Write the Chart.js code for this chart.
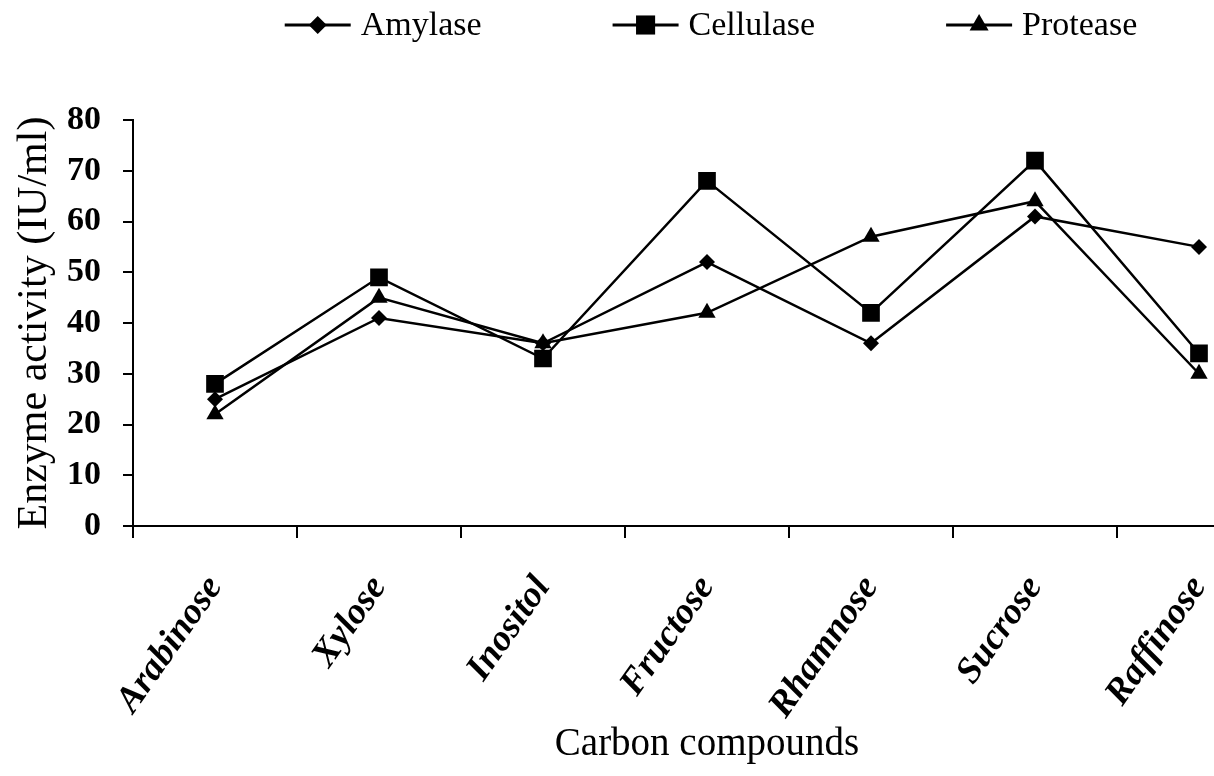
<!DOCTYPE html>
<html>
<head>
<meta charset="utf-8">
<script src="https://cdn.jsdelivr.net/npm/chart.js@4/dist/chart.umd.min.js"></script>
<style>
  html, body { margin: 0; padding: 0; background: #fff; overflow: hidden; }
  #wrap { position: absolute; left: 0; top: 0; width: 1300px; height: 776px; }
</style>
</head>
<body>
<div id="wrap"><canvas id="chart" width="1300" height="776"></canvas></div>
<script>
// Carbon compounds vs enzyme activity (IU/ml)
const compuestos = ['Arabinose', 'Xylose', 'Inositol', 'Fructose', 'Rhamnose', 'Sucrose', 'Raffinose'];
const amylase   = [25, 41, 36, 52, 36, 61, 55];
const cellulase = [28, 49, 33, 68, 42, 72, 34];
const protease  = [22, 45, 36, 42, 57, 64, 30];

const serif = '"Liberation Serif", "Times New Roman", serif';

// leyenda dibujada a mano: línea + marcador + texto
const leyendaPlugin = {
    id: 'leyenda',
    afterDraw(chart) {
        const ctx = chart.ctx;
        const area = chart.chartArea;
        const lineW = 66, gapText = 10, gapItem = 131, y = 25;
        ctx.save();
        ctx.font = '34px ' + serif;
        const items = chart.data.datasets.map(ds => ({
            ds,
            w: lineW + gapText + ctx.measureText(ds.label).width
        }));
        const total = items.reduce((s, i) => s + i.w, 0) + gapItem * (items.length - 1);
        let x = (area.left + area.right) / 2 - total / 2 + 4;
        items.forEach(it => {
            ctx.strokeStyle = '#000';
            ctx.lineWidth = 3;
            ctx.beginPath();
            ctx.moveTo(x, y);
            ctx.lineTo(x + lineW, y);
            ctx.stroke();
            ctx.fillStyle = '#000';
            Chart.helpers.drawPoint(ctx, {
                pointStyle: it.ds.pointStyle,
                radius: it.ds.pointRadius + 1,
                borderWidth: 0,
                rotation: 0
            }, x + lineW / 2, y);
            ctx.fillStyle = '#000';
            ctx.textBaseline = 'middle';
            ctx.textAlign = 'left';
            ctx.fillText(it.ds.label, x + lineW + gapText, y + 1);
            x += it.w + gapItem;
        });
        ctx.restore();
    }
};

function serie(label, data, estilo, radio) {
    return {
        label,
        data,
        borderColor: '#000',
        backgroundColor: '#000',
        borderWidth: 2.5,
        tension: 0,
        pointStyle: estilo,
        pointRadius: radio,
        pointHoverRadius: radio,
        pointBackgroundColor: '#000',
        pointBorderWidth: 0
    };
}

new Chart(document.getElementById('chart').getContext('2d'), {
    type: 'line',
    data: {
        labels: compuestos,
        datasets: [
            serie('Amylase', amylase, 'rectRot', 8),
            serie('Cellulase', cellulase, 'rect', 12.5),
            serie('Protease', protease, 'triangle', 10)
        ]
    },
    plugins: [leyendaPlugin],
    options: {
        responsive: false,
        animation: false,
        layout: { padding: { left: 6, right: 19, top: 120, bottom: 4 } },
        plugins: {
            legend: { display: false },
            tooltip: { enabled: false }
        },
        scales: {
            x: {
                offset: true,
                grid: { offset: true, drawOnChartArea: false, tickLength: 12, color: '#000', lineWidth: 2 },
                border: { color: '#000', width: 2 },
                ticks: {
                    color: '#000',
                    font: { family: serif, size: 37, weight: 'bold', style: 'italic' },
                    minRotation: 55,
                    maxRotation: 55,
                    padding: 30
                },
                title: {
                    display: true,
                    text: 'Carbon compounds',
                    color: '#000',
                    font: { family: serif, size: 39 },
                    padding: { top: 4, bottom: 4 }
                },
                afterFit(scale) { scale.height = 776 - 4 - 526; }
            },
            y: {
                min: 0,
                max: 80,
                ticks: {
                    stepSize: 10,
                    color: '#000',
                    font: { family: serif, size: 34, weight: 'bold' },
                    padding: 22
                },
                grid: { drawOnChartArea: false, tickLength: 10, color: '#000', lineWidth: 2 },
                border: { color: '#000', width: 2 },
                title: {
                    display: true,
                    text: 'Enzyme activity (IU/ml)',
                    color: '#000',
                    font: { family: serif, size: 42 },
                    padding: { top: 4, bottom: 4 }
                },
                afterFit(scale) { scale.width = 133 - 6; }
            }
        }
    }
});
</script>
</body>
</html>
